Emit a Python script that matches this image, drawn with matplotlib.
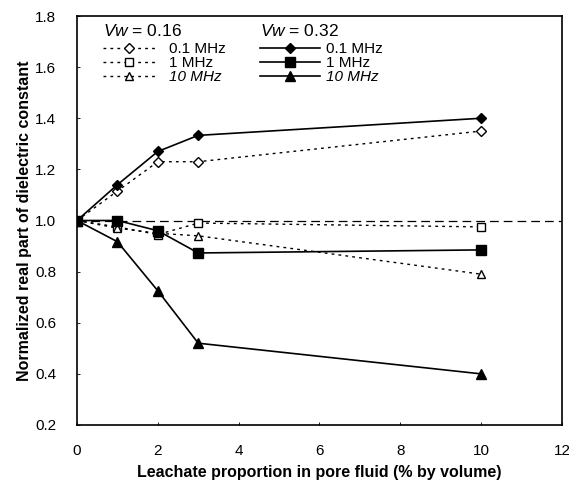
import matplotlib
matplotlib.use("Agg")
import matplotlib.pyplot as plt

plt.rcParams['font.family'] = ['Liberation Sans', 'DejaVu Sans']
plt.rcParams['mathtext.fontset'] = 'custom'
plt.rcParams['mathtext.rm'] = 'Liberation Sans'
plt.rcParams['mathtext.it'] = 'Liberation Sans:italic'

# leachate proportion (% by volume)
x = [0, 1, 2, 3, 10]

# Vw = 0.16 (open markers, dotted)
low_01 = [1.0, 1.115, 1.23, 1.23, 1.35]
low_1 = [1.0, 0.975, 0.945, 0.99, 0.975]
low_10 = [1.0, 0.97, 0.95, 0.94, 0.79]

# Vw = 0.32 (filled markers, solid)
high_01 = [1.0, 1.14, 1.27, 1.333, 1.40]
high_1 = [1.0, 1.0, 0.96, 0.873, 0.885]
high_10 = [1.0, 0.917, 0.725, 0.52, 0.40]

freq_labels = ['0.1 MHz', '1 MHz', '10 MHz']


def main():
    fig = plt.figure(figsize=(5.69, 4.88), dpi=100)
    ax = fig.add_axes([0.1353, 0.1291, 0.8524, 0.8381])

    ax.axhline(1.0, color='black', lw=0.9, ls=(0, (7, 4)), zorder=1)

    dot = (0, (2, 3))
    kw = dict(color='black', lw=1.0, ls=dot, mfc='white', mec='black', mew=1.0)
    l1, = ax.plot(x, low_01, marker='D', ms=5, **kw)
    l2, = ax.plot(x, low_1, marker='s', ms=6, **kw)
    l3, = ax.plot(x, low_10, marker='^', ms=6, **kw)

    kw = dict(color='black', lw=1.2, ls='-')
    h1, = ax.plot(x, high_01, marker='D', ms=5, **kw)
    h2, = ax.plot(x, high_1, marker='s', ms=7, **kw)
    h3, = ax.plot(x, high_10, marker='^', ms=7, **kw)

    ax.set_xlim(0, 12)
    ax.set_ylim(0.2, 1.8)
    ax.set_xticks(range(0, 13, 2))
    ax.set_yticks([0.2, 0.4, 0.6, 0.8, 1.0, 1.2, 1.4, 1.6, 1.8])
    ax.set_yticklabels(['%.1f' % v for v in ax.get_yticks()])
    ax.tick_params(axis='both', direction='in', length=2, width=0.6, labelsize=11)
    ax.tick_params(axis='y', pad=15)
    ax.tick_params(axis='x', pad=14)
    for s in ax.spines.values():
        s.set_linewidth(1.2)

    ax.set_xlabel('Leachate proportion in pore fluid (% by volume)',
                  fontsize=11.5, fontweight='bold', labelpad=5)
    ax.set_ylabel('Normalized real part of dielectric constant',
                  fontsize=11.5, fontweight='bold', labelpad=2)

    leg1 = ax.legend([l1, l2, l3], freq_labels, title=r'$\it{Vw}$ = 0.16',
                     loc='upper left', bbox_to_anchor=(0.042, 0.997),
                     frameon=False, fontsize=11, title_fontsize=12.5,
                     handlelength=3.4, handletextpad=0.9, labelspacing=0.0,
                     alignment='left', borderaxespad=0)
    ax.add_artist(leg1)
    leg2 = ax.legend([h1, h2, h3], freq_labels, title=r'$\it{Vw}$ = 0.32',
                     loc='upper left', bbox_to_anchor=(0.365, 0.997),
                     frameon=False, fontsize=11, title_fontsize=12.5,
                     handlelength=3.9, handletextpad=0.4, labelspacing=0.0,
                     alignment='left', borderaxespad=0)
    for leg in (leg1, leg2):
        leg.get_texts()[2].set_style('italic')
        leg._legend_box.sep = 2

    fig.savefig('out.png', dpi=100)


if __name__ == "__main__":
    main()
